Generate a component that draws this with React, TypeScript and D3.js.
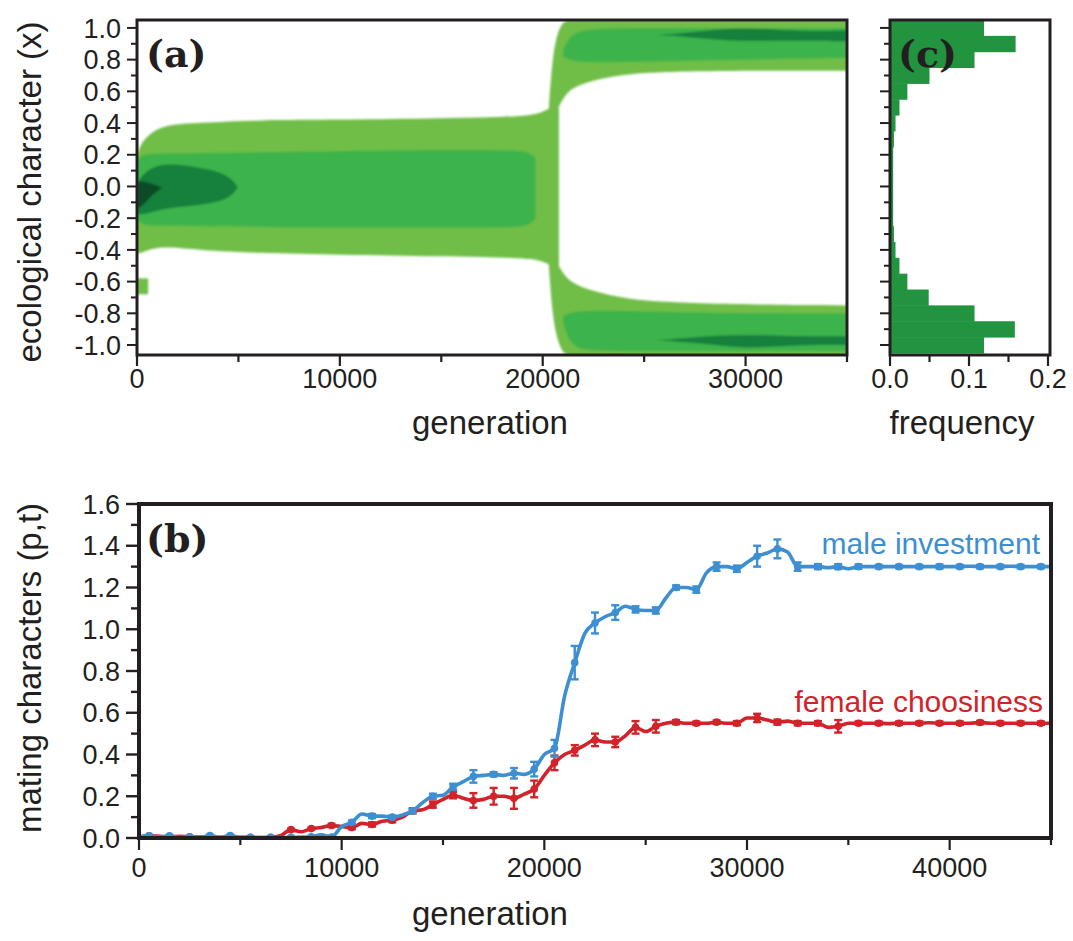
import React from 'react';
import * as d3 from 'd3';

const INK = '#231f20';
const LIGHT = '#70be46';
const MEDIUM = '#3cb44b';
const DARK = '#15803e';
const DARKEST = '#0e4c27';
const HIST = '#22943f';
const BLUE = '#3d8fd1';
const RED = '#d2232a';
const SANS = '"Liberation Sans", Arial, Helvetica, sans-serif';
const SERIF = '"DejaVu Serif", "Liberation Serif", serif';

// ---- panel (a): density bands, each row is [generation, lower x, upper x]
const lightCentral = [
  [0, -0.42, 0.19], [200, -0.42, 0.28], [800, -0.39, 0.35], [1500, -0.38, 0.39],
  [3000, -0.4, 0.4], [6000, -0.42, 0.42], [10000, -0.43, 0.42], [15000, -0.44, 0.43],
  [19500, -0.45, 0.44], [20100, -0.48, 0.48], [20500, -0.5, 0.5], [20800, -0.5, 0.5],
];
const lightUpper = [
  [20300, 0.42, 0.5], [20500, 0.45, 0.85], [20800, 0.5, 1.0], [21100, 0.58, 1.05],
  [21600, 0.63, 1.05], [22500, 0.67, 1.05], [24000, 0.71, 1.05], [27000, 0.73, 1.05],
  [35000, 0.73, 1.05],
];
const lightLower = [
  [20300, -0.5, -0.42], [20500, -0.85, -0.45], [20800, -1.0, -0.5], [21100, -1.07, -0.57],
  [21600, -1.07, -0.62], [22500, -1.07, -0.66], [24000, -1.07, -0.71], [27000, -1.07, -0.74],
  [35000, -1.07, -0.75],
];
const lightSpot = [[0, -0.68, -0.58], [550, -0.68, -0.58]];
const mediumCentral = [
  [0, -0.2, 0.15], [200, -0.24, 0.2], [800, -0.25, 0.21], [3000, -0.25, 0.21],
  [8000, -0.26, 0.22], [14000, -0.26, 0.23], [18500, -0.26, 0.23], [19300, -0.25, 0.22],
  [19650, -0.2, 0.18],
];
const mediumUpper = [
  [21000, 0.82, 0.86], [21400, 0.79, 0.97], [22500, 0.78, 1.0], [26000, 0.79, 1.0],
  [30000, 0.8, 1.0], [35000, 0.81, 1.0],
];
const mediumLower = [
  [21000, -0.86, -0.82], [21400, -1.02, -0.79], [22500, -1.04, -0.78], [26000, -1.04, -0.79],
  [30000, -1.04, -0.8], [35000, -1.04, -0.8],
];
const darkBlob = [
  [0, -0.17, 0.02], [300, -0.18, 0.08], [1000, -0.15, 0.14], [2000, -0.13, 0.14],
  [3000, -0.12, 0.12], [3900, -0.1, 0.1], [4600, -0.07, 0.06], [4950, -0.01, 0.0],
];
const darkUpper = [
  [25600, 0.955, 0.955], [27000, 0.945, 0.967], [28500, 0.925, 0.99], [30000, 0.915, 1.0],
  [31500, 0.92, 0.99], [33000, 0.92, 0.98], [35000, 0.915, 0.985],
];
const darkLower = [
  [25600, -0.97, -0.97], [27000, -0.982, -0.955], [28500, -1.0, -0.94], [30000, -1.02, -0.935],
  [31500, -1.01, -0.94], [33000, -1.0, -0.945], [35000, -1.0, -0.945],
];
const darkestCore = [[0, -0.14, 0.03], [300, -0.12, 0.035], [700, -0.06, 0.02], [1200, -0.01, -0.005]];

const densityLayers = [
  { color: LIGHT, bands: [lightCentral, lightUpper, lightLower, lightSpot] },
  { color: MEDIUM, bands: [mediumCentral, mediumUpper, mediumLower] },
  { color: DARK, bands: [darkBlob, darkUpper, darkLower] },
  { color: DARKEST, bands: [darkestCore] },
];

// ---- panel (c): frequency histogram
const histBins = [-1.0, -0.9, -0.8, -0.7, -0.6, -0.5, -0.4, -0.3, -0.2, -0.1, 0.0, 0.1, 0.2, 0.3, 0.4, 0.5, 0.6, 0.7, 0.8, 0.9, 1.0];
const histFreq = [0.119, 0.158, 0.107, 0.049, 0.022, 0.012, 0.007, 0.005, 0.004, 0.004, 0.004, 0.004, 0.004, 0.005, 0.007, 0.012, 0.022, 0.05, 0.107, 0.159, 0.119];

// ---- panel (b): mating characters every 500 generations
const generations = d3.range(0, 45001, 500);
const maleInvestment = [
  0.005, 0.01, 0.004, 0.01, 0.003, 0.006, 0.003, 0.012, 0.003, 0.012,
  0.003, 0.002, 0.002, 0.002, 0.002, 0.003, 0.004, 0.006, 0.015, 0.005,
  0.055, 0.075, 0.115, 0.105, 0.105, 0.1, 0.11, 0.13, 0.17, 0.2,
  0.205, 0.245, 0.27, 0.295, 0.3, 0.305, 0.3, 0.31, 0.305, 0.33,
  0.4, 0.43, 0.68, 0.84, 0.98, 1.03, 1.06, 1.08, 1.11, 1.095,
  1.09, 1.09, 1.15, 1.2, 1.2, 1.19, 1.27, 1.3, 1.3, 1.29,
  1.32, 1.35, 1.365, 1.385, 1.37, 1.3, 1.3, 1.3, 1.295, 1.3,
  1.29, 1.3, 1.3, 1.3, 1.3, 1.3, 1.3, 1.3, 1.3, 1.3,
  1.3, 1.3, 1.302, 1.3, 1.3, 1.3, 1.302, 1.3, 1.3, 1.3, 1.3,
];
const femaleChoosiness = [
  0.005, 0.01, 0.008, 0.006, 0.008, 0.005, 0.004, 0.004, 0.003, 0.003,
  0.003, 0.003, 0.002, 0.003, 0.012, 0.04, 0.03, 0.045, 0.05, 0.06,
  0.055, 0.05, 0.07, 0.065, 0.08, 0.085, 0.1, 0.13, 0.135, 0.16,
  0.185, 0.205, 0.19, 0.18, 0.185, 0.2, 0.2, 0.19, 0.21, 0.235,
  0.3, 0.36, 0.4, 0.42, 0.445, 0.47, 0.46, 0.46, 0.49, 0.53,
  0.51, 0.535, 0.55, 0.555, 0.55, 0.55, 0.55, 0.555, 0.55, 0.55,
  0.575, 0.575, 0.565, 0.555, 0.56, 0.55, 0.55, 0.55, 0.53, 0.535,
  0.55, 0.55, 0.55, 0.55, 0.548, 0.55, 0.55, 0.55, 0.552, 0.55,
  0.55, 0.55, 0.55, 0.553, 0.55, 0.55, 0.55, 0.55, 0.55, 0.55, 0.55,
];
// error bars at the marker generations (500, 1500, ... 44500)
const maleErr = [
  0.004, 0.004, 0.004, 0.004, 0.004, 0.004, 0.004, 0.004, 0.004, 0.006,
  0.008, 0.01, 0.008, 0.01, 0.012, 0.015, 0.03, 0.01, 0.025, 0.035,
  0.04, 0.08, 0.05, 0.035, 0.015, 0.015, 0.01, 0.015, 0.02, 0.015,
  0.05, 0.045, 0.02, 0.012, 0.012, 0.01, 0.008, 0.008, 0.008, 0.01,
  0.008, 0.008, 0.008, 0.008, 0.008,
];
const femaleErr = [
  0.004, 0.004, 0.004, 0.004, 0.004, 0.004, 0.004, 0.004, 0.004, 0.008,
  0.008, 0.01, 0.01, 0.012, 0.015, 0.015, 0.035, 0.04, 0.05, 0.04,
  0.035, 0.025, 0.03, 0.025, 0.03, 0.03, 0.01, 0.008, 0.008, 0.01,
  0.02, 0.012, 0.01, 0.01, 0.03, 0.008, 0.008, 0.008, 0.008, 0.008,
  0.008, 0.008, 0.008, 0.008, 0.008,
];

const ecoTicks = [-1.0, -0.8, -0.6, -0.4, -0.2, 0.0, 0.2, 0.4, 0.6, 0.8, 1.0];
const ecoMinor = [-0.9, -0.7, -0.5, -0.3, -0.1, 0.1, 0.3, 0.5, 0.7, 0.9];
const genTicksA = [0, 10000, 20000, 30000];
const genMinorA = [5000, 15000, 25000, 35000];
const freqTicks = [0.0, 0.1, 0.2];
const freqMinor = [0.05, 0.15];
const genTicksB = [0, 10000, 20000, 30000, 40000];
const genMinorB = [5000, 15000, 25000, 35000, 45000];
const matingTicks = [0.0, 0.2, 0.4, 0.6, 0.8, 1.0, 1.2, 1.4, 1.6];
const matingMinor = [0.1, 0.3, 0.5, 0.7, 0.9, 1.1, 1.3, 1.5];

const xA = d3.scaleLinear().domain([0, 35000]).range([137, 847]);
const yA = d3.scaleLinear().domain([-1.063, 1.05]).range([355, 20]);
const xC = d3.scaleLinear().domain([0, 0.2]).range([890, 1048]);
const xB = d3.scaleLinear().domain([0, 45000]).range([139, 1051]);
const yB = d3.scaleLinear().domain([0, 1.6]).range([838, 504]);

const fmt1 = (v: number) => v.toFixed(1);

function YAxis({ scale, x, major, minor, labels, len = 9, mlen = 5, fontSize = 27, sw = 2 }: any) {
  return (
    <g>
      {major.map((v: number) => (
        <g key={'M' + v}>
          <line x1={x - len} x2={x} y1={scale(v)} y2={scale(v)} stroke={INK} strokeWidth={sw} />
          {labels && (
            <text x={x - len - 6} y={scale(v)} dy="0.36em" textAnchor="end" fontSize={fontSize} fontFamily={SANS} fill={INK}>
              {fmt1(v)}
            </text>
          )}
        </g>
      ))}
      {minor.map((v: number) => (
        <line key={'m' + v} x1={x - mlen} x2={x} y1={scale(v)} y2={scale(v)} stroke={INK} strokeWidth={sw} />
      ))}
    </g>
  );
}

function XAxis({ scale, y, major, minor, format, len = 10, mlen = 6, fontSize = 27, sw = 2.2, gap = 22 }: any) {
  return (
    <g>
      {major.map((v: number) => (
        <g key={'M' + v}>
          <line x1={scale(v)} x2={scale(v)} y1={y} y2={y + len} stroke={INK} strokeWidth={sw} />
          <text x={scale(v)} y={y + len + gap} textAnchor="middle" fontSize={fontSize} fontFamily={SANS} fill={INK}>
            {format(v)}
          </text>
        </g>
      ))}
      {minor.map((v: number) => (
        <line key={'m' + v} x1={scale(v)} x2={scale(v)} y1={y} y2={y + mlen} stroke={INK} strokeWidth={sw} />
      ))}
    </g>
  );
}

function Series({ values, errs, color }: { values: number[]; errs: number[]; color: string }) {
  const pts = generations.map((g, i) => [g, values[i]] as [number, number]);
  const line = d3.line<[number, number]>()
    .x(d => xB(d[0]))
    .y(d => yB(d[1]))
    .curve(d3.curveMonotoneX);
  const markers = pts.filter(d => d[0] % 1000 === 500);
  return (
    <g>
      <path d={line(pts) || ''} fill="none" stroke={color} strokeWidth={3.6} strokeLinejoin="round" />
      {markers.map((d, k) => {
        const cx = xB(d[0]);
        const top = yB(d[1] + errs[k]);
        const bot = yB(d[1] - errs[k]);
        return (
          <g key={d[0]}>
            <line x1={cx} x2={cx} y1={top} y2={bot} stroke={color} strokeWidth={2.4} />
            <line x1={cx - 4} x2={cx + 4} y1={top} y2={top} stroke={color} strokeWidth={2.4} />
            <line x1={cx - 4} x2={cx + 4} y1={bot} y2={bot} stroke={color} strokeWidth={2.4} />
            <circle cx={cx} cy={yB(d[1])} r={3.8} fill={color} />
          </g>
        );
      })}
    </g>
  );
}

export default function App() {
  const band = d3.area<number[]>()
    .x(d => xA(d[0]))
    .y0(d => yA(d[1]))
    .y1(d => yA(d[2]))
    .curve(d3.curveBasis);

  return (
    <svg width={1073} height={941} style={{ position: 'absolute', left: 0, top: 0, background: '#fff' }}>
      <defs>
        <clipPath id="clipA"><rect x={xA(0)} y={yA(1.05)} width={xA(35000) - xA(0)} height={yA(-1.063) - yA(1.05)} /></clipPath>
        <clipPath id="clipC"><rect x={xC(0)} y={yA(1.05)} width={xC(0.2) + 2 - xC(0)} height={yA(-1.063) - yA(1.05)} /></clipPath>
        <clipPath id="clipB"><rect x={xB(0)} y={yB(1.6)} width={xB(45000) - xB(0)} height={yB(0) - yB(1.6)} /></clipPath>
        <filter id="soft"><feGaussianBlur stdDeviation={0.8} /></filter>
      </defs>

      {/* panel (a) */}
      <g clipPath="url(#clipA)">
        <g filter="url(#soft)">
          {densityLayers.map((layer, li) => (
            <g key={li}>
              {layer.bands.map((b, bi) => (
                <path key={bi} d={band(b) || ''} fill={layer.color} />
              ))}
            </g>
          ))}
        </g>
      </g>
      <rect x={xA(0)} y={yA(1.05)} width={xA(35000) - xA(0)} height={yA(-1.063) - yA(1.05)} fill="none" stroke={INK} strokeWidth={3} />
      <YAxis scale={yA} x={xA(0) - 1} major={ecoTicks} minor={ecoMinor} labels />
      <XAxis scale={xA} y={yA(-1.063) + 1} major={genTicksA} minor={genMinorA} format={(v: number) => String(v)} />
      <text x={146} y={67} fontSize={38} fontWeight="bold" fontFamily={SERIF} fill={INK}>(a)</text>

      {/* panel (c) */}
      <g clipPath="url(#clipC)">
        {histBins.map((c, i) => (
          <rect key={c} x={xC(0)} y={yA(c + 0.05)} width={xC(histFreq[i]) - xC(0)} height={yA(c - 0.05) - yA(c + 0.05) + 0.5} fill={HIST} />
        ))}
      </g>
      <rect x={xC(0)} y={yA(1.05)} width={xC(0.2) + 2 - xC(0)} height={yA(-1.063) - yA(1.05)} fill="none" stroke={INK} strokeWidth={3} />
      <YAxis scale={yA} x={xC(0) - 1} major={ecoTicks} minor={ecoMinor} labels={false} />
      <XAxis scale={xC} y={yA(-1.063) + 1} major={freqTicks} minor={freqMinor} format={fmt1} />
      <text x={898} y={67} fontSize={38} fontWeight="bold" fontFamily={SERIF} fill={INK}>(c)</text>

      <text transform="translate(41,192) rotate(-90)" textAnchor="middle" fontSize={33} fontFamily={SANS} fill={INK}>ecological character (x)</text>
      <text x={490} y={434} textAnchor="middle" fontSize={33} fontFamily={SANS} fill={INK}>generation</text>
      <text x={962} y={434} textAnchor="middle" fontSize={33} fontFamily={SANS} fill={INK}>frequency</text>

      {/* panel (b) */}
      <g clipPath="url(#clipB)">
        <Series values={femaleChoosiness} errs={femaleErr} color={RED} />
        <Series values={maleInvestment} errs={maleErr} color={BLUE} />
      </g>
      <rect x={xB(0)} y={yB(1.6)} width={xB(45000) - xB(0)} height={yB(0) - yB(1.6)} fill="none" stroke={INK} strokeWidth={4} />
      <YAxis scale={yB} x={xB(0) - 2} major={matingTicks} minor={matingMinor} labels len={11} mlen={6} sw={2.4} />
      <XAxis scale={xB} y={yB(0) + 2} major={genTicksB} minor={genMinorB} format={(v: number) => String(v)} len={10} mlen={5} gap={27} />
      <text x={146} y={552} fontSize={38} fontWeight="bold" fontFamily={SERIF} fill={INK}>(b)</text>
      <text x={1040} y={554} textAnchor="end" fontSize={30} fontFamily={SANS} fill={BLUE}>male investment</text>
      <text x={1043} y={712} textAnchor="end" fontSize={30} fontFamily={SANS} fill={RED}>female choosiness</text>

      <text transform="translate(41,668) rotate(-90)" textAnchor="middle" fontSize={33} fontFamily={SANS} fill={INK}>mating characters (p,t)</text>
      <text x={490} y={925} textAnchor="middle" fontSize={33} fontFamily={SANS} fill={INK}>generation</text>
    </svg>
  );
}
